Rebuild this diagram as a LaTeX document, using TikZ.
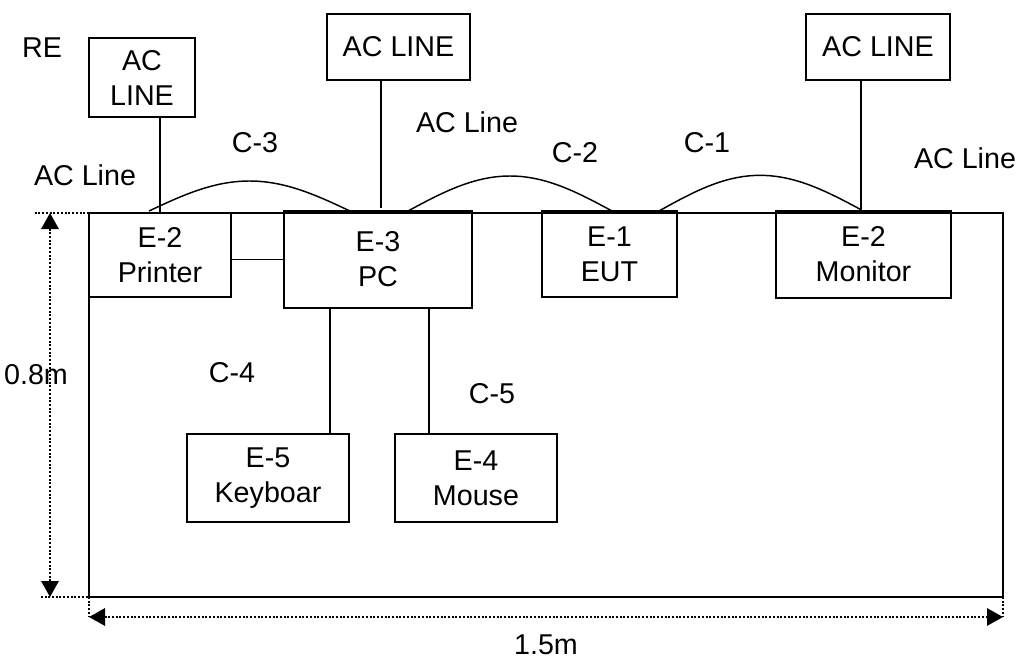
\documentclass[tikz,border=0pt]{standalone}
\usepackage{fontspec}
\setmainfont{Liberation Sans}
\usetikzlibrary{arrows.meta,calc}

\begin{document}
\begin{tikzpicture}[x=0.75pt, y=-0.75pt,
  every node/.style={font=\fontsize{21.5}{26.25}\selectfont},
  unit/.style={draw, line width=1.1pt, inner sep=0pt, outer sep=0pt, align=center},
  wire/.style={line width=1.1pt},
  dimline/.style={line width=1.5pt, dash pattern=on 1.5pt off 1.3pt, {Triangle[length=12pt,width=13pt]}-{Triangle[length=12pt,width=13pt]}},
  extline/.style={line width=1.5pt, dash pattern=on 1.5pt off 1.3pt}]
  \useasboundingbox (0,0) rectangle (1018,664);

  % table
  \node[draw, line width=1.5pt, inner sep=0pt, outer sep=0pt, minimum width=685.5pt, minimum height=288pt] (tbl) at (546,405) {};

  % supply boxes
  \node[unit, minimum width=79.5pt, minimum height=59.25pt] (ac1) at (142,77.5) {AC\\LINE};
  \node[unit, minimum width=107.25pt, minimum height=49.5pt] (ac2) at (398.5,47) {AC LINE};
  \node[unit, minimum width=108pt, minimum height=49.5pt] (ac3) at (878,47) {AC LINE};

  % units on the table
  \node[unit, minimum width=106.5pt, minimum height=63pt] (prn) at (160,255) {E-2\\Printer};
  \node[unit, minimum width=141pt, minimum height=72.75pt] (pc) at (378,259.5) {E-3\\PC};
  \node[unit, minimum width=101.25pt, minimum height=64.5pt] (eut) at (609.5,254) {E-1\\EUT};
  \node[unit, minimum width=131.25pt, minimum height=65.25pt] (mon) at (863.5,254.5) {E-2\\Monitor};
  \node[unit, minimum width=121.5pt, minimum height=66pt] (kbd) at (268,478) {E-5\\Keyboar};
  \node[unit, minimum width=121.5pt, minimum height=66pt] (mse) at (476,478) {E-4\\Mouse};

  % labels
  \node (re) at (42,48) {RE};
  \node (acl1) at (85,175) {AC Line};
  \node (acl2) at (467,122) {AC Line};
  \node (acl3) at (965,158) {AC Line};
  \node (lc3) at (255,143) {C-3};
  \node (lc2) at (575,153) {C-2};
  \node (lc1) at (707,143) {C-1};
  \node (lc4) at (232,373) {C-4};
  \node (lc5) at (492,394) {C-5};
  \node (hgt) at (36,375) {0.8m};
  \node (wid) at (546,645) {1.5m};

  % power cords
  \draw[wire] (ac1.south -| prn.north) -- (prn.north);
  \draw[wire] ([xshift=2.25pt]ac2.south -| pc.north) -- ([xshift=2.25pt,yshift=2pt]pc.north);
  \draw[wire] ([xshift=-1.9pt]ac3.south -| mon.north) -- ([xshift=-1.9pt,yshift=1pt]mon.north);

  % cables
  \coordinate (c3a) at ([xshift=-8.25pt,yshift=1.5pt]prn.north);
  \coordinate (c3b) at ([xshift=-21pt]pc.north);
  \coordinate (c2a) at ([xshift=22.5pt]pc.north);
  \coordinate (c2b) at ([xshift=1.9pt]eut.north);
  \coordinate (c1a) at ([xshift=37.1pt]eut.north);
  \coordinate (c1b) at ([xshift=-1.9pt,yshift=1pt]mon.north);
  \draw[wire] (c3a) sin ($(c3a)!0.5!(c3b)+(0,-30)$) cos (c3b);
  \draw[wire] (c2a) sin ($(c2a)!0.5!(c2b)+(0,-35)$) cos (c2b);
  \draw[wire] (c1a) sin ($(c1a)!0.5!(c1b)+(0,-35)$) cos (c1b);
  \draw[wire] (prn.east |- pc.west) -- (pc.west);
  \draw[wire] ([xshift=-36pt]pc.south) -- ([xshift=-36pt]pc.south |- kbd.north);
  \draw[wire] ([xshift=38.25pt]pc.south) -- ([xshift=38.25pt]pc.south |- mse.north);

  % dimensions
  \draw[extline] (tbl.north west) -- ++(-54,0);
  \draw[extline] ([xshift=15.75pt]tbl.south west) -- ++(-70,0);
  \draw[extline] (tbl.south west) -- ++(0,20);
  \draw[extline] (tbl.south east) -- ++(0,20);
  \draw[dimline] ([xshift=-29.25pt]tbl.north west) -- ([xshift=-29.25pt]tbl.south west);
  \draw[dimline] ([yshift=-15pt]tbl.south west) -- ([yshift=-15pt]tbl.south east);
\end{tikzpicture}
\end{document}
